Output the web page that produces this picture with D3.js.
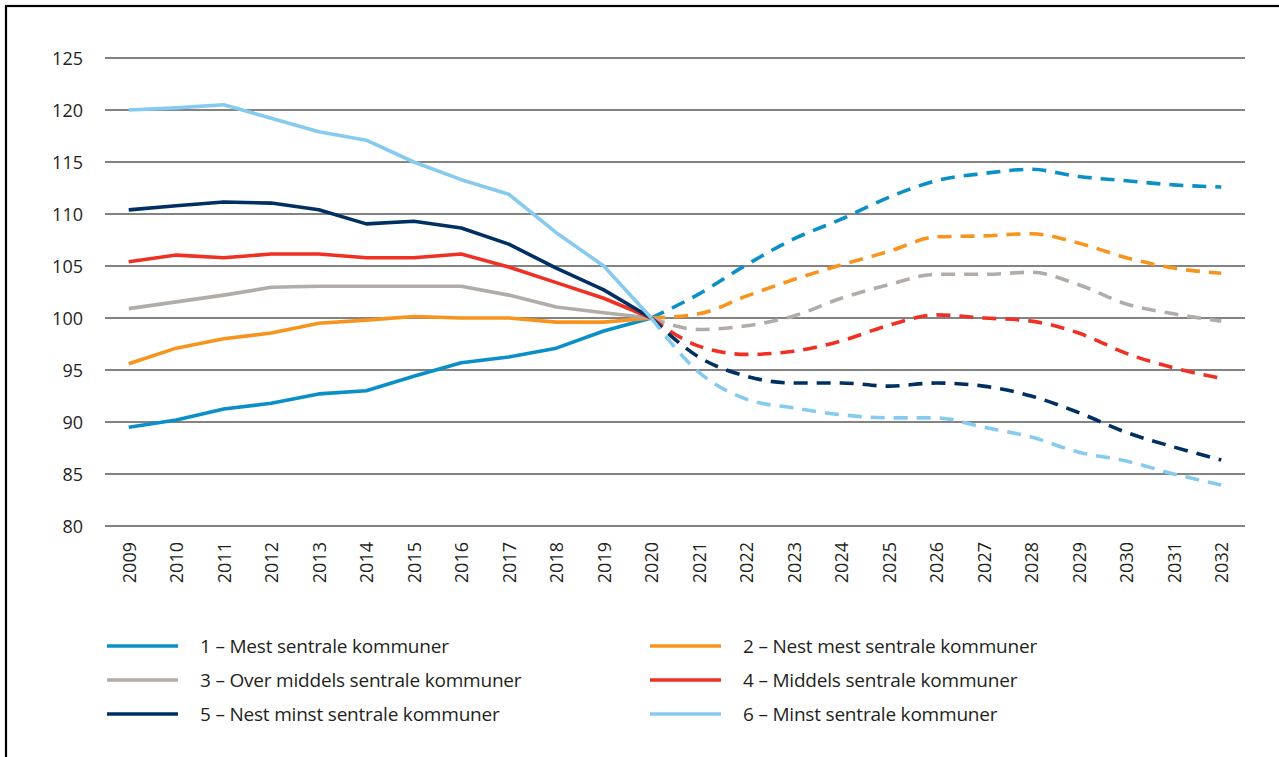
<!DOCTYPE html>
<html>
<head>
<meta charset="utf-8">
<script src="https://cdn.jsdelivr.net/npm/d3@7"></script>
<style>
  body { margin: 0; background: #fff; }
  svg { display: block; font-family: "Open Sans", sans-serif; }
  .grid line { stroke: #5a5a5a; stroke-width: 1.3; }
  .axis text { fill: #231f20; font-size: 18px; font-family: "Open Sans", sans-serif; }
  .legend text { fill: #231f20; font-size: 19px; font-family: "Open Sans", sans-serif; letter-spacing: -0.2px; }
</style>
</head>
<body>
<svg width="1279" height="757"></svg>
<script>
// data: index 2020 = 100, history 2009-2020 and forecast 2020-2032
var years = d3.range(2009, 2033);
var yTicks = [80, 85, 90, 95, 100, 105, 110, 115, 120, 125];

var seriesNames = [
  "1 – Mest sentrale kommuner",
  "2 – Nest mest sentrale kommuner",
  "3 – Over middels sentrale kommuner",
  "4 – Middels sentrale kommuner",
  "5 – Nest minst sentrale kommuner",
  "6 – Minst sentrale kommuner"
];
var seriesColors = ["#0a8fc6", "#f7941d", "#b2aca9", "#ee3124", "#002f62", "#86cbef"];

var s1 = [89.5, 90.2, 91.25, 91.8, 92.7, 93.0, 94.4, 95.7, 96.25, 97.1, 98.75, 100,
          102.3, 105.1, 107.6, 109.5, 111.6, 113.2, 113.9, 114.3, 113.6, 113.2, 112.8, 112.6];
var s2 = [95.6, 97.1, 98.0, 98.55, 99.5, 99.8, 100.15, 100.0, 100.0, 99.6, 99.6, 100,
          100.4, 102.1, 103.7, 105.1, 106.4, 107.8, 107.9, 108.1, 107.2, 105.8, 104.8, 104.3];
var s3 = [100.9, 101.55, 102.2, 102.95, 103.05, 103.05, 103.05, 103.05, 102.2, 101.05, 100.5, 100,
          98.9, 99.25, 100.2, 101.9, 103.2, 104.2, 104.2, 104.4, 103.2, 101.35, 100.4, 99.7];
var s4 = [105.4, 106.05, 105.8, 106.15, 106.15, 105.8, 105.8, 106.15, 104.9, 103.4, 101.9, 100,
          97.3, 96.5, 96.8, 97.8, 99.3, 100.3, 100.0, 99.7, 98.55, 96.6, 95.2, 94.2];
var s5 = [110.4, 110.8, 111.15, 111.05, 110.4, 109.05, 109.3, 108.65, 107.1, 104.8, 102.7, 100,
          96.25, 94.4, 93.75, 93.75, 93.45, 93.75, 93.45, 92.5, 90.9, 89.0, 87.6, 86.35];
var s6 = [120.0, 120.2, 120.5, 119.2, 117.9, 117.1, 115.0, 113.3, 111.9, 108.2, 105.0, 100,
          94.8, 92.2, 91.35, 90.7, 90.4, 90.4, 89.5, 88.55, 87.1, 86.25, 85.0, 83.95];
var allSeries = [s1, s2, s3, s4, s5, s6];
var splitYear = 2020;

var svg = d3.select("svg");
var margin = { top: 58, left: 105, right: 34, bottom: 231 };
var width = 1279, height = 757;

// frame (left and top edges visible)
svg.append("rect")
    .attr("x", 6).attr("y", 6)
    .attr("width", 1300).attr("height", 800)
    .attr("fill", "none").attr("stroke", "#000").attr("stroke-width", 2.2);

/////////////////////////////////////////////////////////////////////
//                        SCALES                                   //
/////////////////////////////////////////////////////////////////////
var xScale = d3.scalePoint()
    .domain(years)
    .range([margin.left, width - margin.right])
    .padding(0.5);

var yScale = d3.scaleLinear()
    .domain([80, 125])
    .range([height - margin.bottom, margin.top]);

// gridlines
svg.append("g")
    .attr("class", "grid")
    .selectAll("line")
    .data(yTicks)
    .join("line")
    .attr("x1", margin.left)
    .attr("x2", width - margin.right)
    .attr("y1", d => yScale(d))
    .attr("y2", d => yScale(d));

// y axis labels
var yAxis = d3.axisLeft(yScale).tickValues(yTicks).tickSize(0).tickPadding(0);
svg.append("g")
    .attr("class", "y axis")
    .attr("transform", "translate(" + (margin.left - 22) + ",0)")
    .call(yAxis)
    .call(g => g.select(".domain").remove())
    .call(g => g.selectAll(".tick text").attr("dy", "0.34em"));

// x axis labels, rotated
var xAxis = d3.axisBottom(xScale).tickSize(0).tickFormat(d3.format("d"));
svg.append("g")
    .attr("class", "x axis")
    .attr("transform", "translate(0," + (yScale(80) + 16) + ")")
    .call(xAxis)
    .call(g => g.select(".domain").remove())
    .call(g => g.selectAll(".tick text")
        .attr("transform", "rotate(-90)")
        .attr("text-anchor", "end")
        .attr("x", 0).attr("y", 0)
        .attr("dx", 0).attr("dy", "0.35em"));

/////////////////////////////////////////////////////////////////////
//                        LINES                                    //
/////////////////////////////////////////////////////////////////////
var histLine = d3.line()
    .x(d => xScale(d.year))
    .y(d => yScale(d.value));
var fcLine = d3.line()
    .x(d => xScale(d.year))
    .y(d => yScale(d.value))
    .curve(d3.curveMonotoneX);

var lines = svg.append("g").attr("class", "lines");
allSeries.forEach(function(vals, i) {
    var pts = years.map((y, j) => ({ year: y, value: vals[j] }));
    var hist = pts.filter(p => p.year <= splitYear);
    var fc = pts.filter(p => p.year >= splitYear);
    lines.append("path")
        .datum(fc)
        .attr("d", fcLine)
        .attr("fill", "none")
        .attr("stroke", seriesColors[i])
        .attr("stroke-width", 3.6)
        .attr("stroke-dasharray", "14,9");
    lines.append("path")
        .datum(hist)
        .attr("d", histLine)
        .attr("fill", "none")
        .attr("stroke", seriesColors[i])
        .attr("stroke-width", 3.6)
        .attr("stroke-linejoin", "round");
});

/////////////////////////////////////////////////////////////////////
//                        LEGEND                                   //
/////////////////////////////////////////////////////////////////////
var legend = svg.append("g").attr("class", "legend");
var legItems = legend.selectAll("g")
    .data(seriesNames)
    .join("g")
    .attr("transform", (d, i) => "translate(" + [(i % 2) ? 650 : 107, 646 + Math.floor(i / 2) * 34] + ")");

legItems.append("line")
    .attr("x1", 0).attr("x2", 71)
    .attr("y1", 0).attr("y2", 0)
    .attr("stroke", (d, i) => seriesColors[i])
    .attr("stroke-width", 3.6);

legItems.append("text")
    .attr("x", 93)
    .attr("dy", "0.35em")
    .text(d => d);
</script>
</body>
</html>
